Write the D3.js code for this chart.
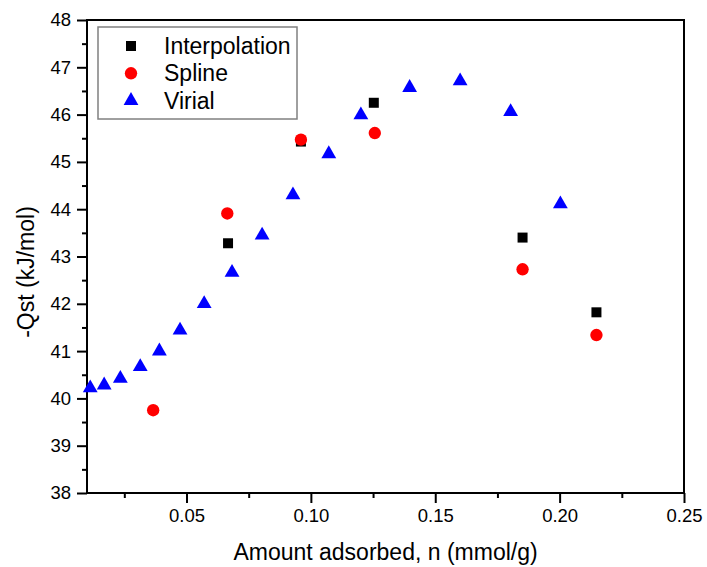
<!DOCTYPE html>
<html>
<head>
<meta charset="utf-8">
<script src="https://cdn.jsdelivr.net/npm/d3@7"></script>
<style>
  body { margin: 0; background: #fff; }
  text { font-family: Arial, "Liberation Sans", sans-serif; fill: #000; }
</style>
</head>
<body>
<div id="chart"></div>
<script>
// data
var interpX = [0.0667, 0.0960, 0.1253, 0.1851, 0.2148];
var interpY = [43.28, 45.43, 46.25, 43.40, 41.82];

var splineX = [0.0366, 0.0664, 0.0960, 0.1257, 0.1851, 0.2148];
var splineY = [39.75, 43.91, 45.47, 45.61, 42.73, 41.34];

var virialX = [0.0113, 0.0169, 0.0234, 0.0314, 0.0391, 0.0474, 0.0571, 0.0683,
               0.0804, 0.0928, 0.1072, 0.1201, 0.1397, 0.1600, 0.1803, 0.2003];
var virialY = [40.22, 40.28, 40.42, 40.67, 41.00, 41.44, 42.00, 42.66,
               43.45, 44.30, 45.17, 45.99, 46.57, 46.71, 46.06, 44.11];

var xTicks = [0.05, 0.10, 0.15, 0.20, 0.25];
var xMinor = [0.025, 0.075, 0.125, 0.175, 0.225];
var yTicks = [38, 39, 40, 41, 42, 43, 44, 45, 46, 47, 48];
var yMinor = [38.5, 39.5, 40.5, 41.5, 42.5, 43.5, 44.5, 45.5, 46.5, 47.5];

var seriesNames = ["Interpolation", "Spline", "Virial"];

var width = 707, height = 567;
var plotLeft = 87, plotRight = 684, plotTop = 20, plotBottom = 493;

var svg = d3.select("#chart").append("svg")
    .attr("width", width)
    .attr("height", height);

var x = d3.scaleLinear().domain([0.01, 0.25]).range([plotLeft, plotRight]);
var y = d3.scaleLinear().domain([38, 48]).range([plotBottom, plotTop]);

// x axis
svg.append("g")
    .attr("transform", `translate(0,${plotBottom})`)
    .call(d3.axisBottom(x).tickValues(xTicks).tickFormat(d3.format(".2f"))
        .tickSize(10).tickSizeOuter(0).tickPadding(6));
svg.append("g")
    .attr("transform", `translate(0,${plotBottom})`)
    .call(d3.axisBottom(x).tickValues(xMinor).tickFormat("")
        .tickSize(5).tickSizeOuter(0));

// y axis
svg.append("g")
    .attr("transform", `translate(${plotLeft},0)`)
    .call(d3.axisLeft(y).tickValues(yTicks)
        .tickSize(10).tickSizeOuter(0).tickPadding(6));
svg.append("g")
    .attr("transform", `translate(${plotLeft},0)`)
    .call(d3.axisLeft(y).tickValues(yMinor).tickFormat("")
        .tickSize(5).tickSizeOuter(0));

svg.selectAll(".domain").remove();
svg.selectAll(".tick line").attr("stroke", "#000").attr("stroke-width", 2);
svg.selectAll(".tick text")
    .style("font-size", "18.5px")
    .style("font-family", "Arial, 'Liberation Sans', sans-serif");

// frame
svg.append("rect")
    .attr("x", plotLeft).attr("y", plotTop)
    .attr("width", plotRight - plotLeft).attr("height", plotBottom - plotTop)
    .attr("fill", "none")
    .attr("stroke", "#000")
    .attr("stroke-width", 2);

// axis titles
svg.append("text")
    .attr("x", (plotLeft + plotRight) / 2)
    .attr("y", 560)
    .attr("text-anchor", "middle")
    .style("font-size", "23px")
    .text("Amount adsorbed, n (mmol/g)");

svg.append("text")
    .attr("transform", "translate(34,272)rotate(-90)")
    .attr("text-anchor", "middle")
    .style("font-size", "23px")
    .text("-Qst (kJ/mol)");

// markers
var square = d3.symbol().type(d3.symbolSquare).size(100);
var circle = d3.symbol().type(d3.symbolCircle).size(120);
var triangle = d3.symbol().type(d3.symbolTriangle).size(95);

svg.append("g").selectAll("path")
    .data(virialX)
    .join("path")
    .attr("d", triangle)
    .attr("transform", (d, i) => `translate(${x(d)},${y(virialY[i])})`)
    .attr("fill", "#0000ff");

svg.append("g").selectAll("path")
    .data(interpX)
    .join("path")
    .attr("d", square)
    .attr("transform", (d, i) => `translate(${x(d)},${y(interpY[i])})`)
    .attr("fill", "#000");

svg.append("g").selectAll("path")
    .data(splineX)
    .join("path")
    .attr("d", circle)
    .attr("transform", (d, i) => `translate(${x(d)},${y(splineY[i])})`)
    .attr("fill", "#ff0000");

// legend
var legend = svg.append("g");
legend.append("rect")
    .attr("x", 98).attr("y", 27)
    .attr("width", 199).attr("height", 92)
    .attr("fill", "#fff")
    .attr("stroke", "#808080")
    .attr("stroke-width", 1.5);

var legendSymbols = [square, circle, triangle];
var legendColors = ["#000", "#ff0000", "#0000ff"];
seriesNames.forEach(function(name, i) {
  var ly = 46 + i * 27.3;
  legend.append("path")
      .attr("d", legendSymbols[i])
      .attr("transform", `translate(131,${ly})`)
      .attr("fill", legendColors[i]);
  legend.append("text")
      .attr("x", 164)
      .attr("y", ly + 8)
      .style("font-size", "23px")
      .text(name);
});
</script>
</body>
</html>
